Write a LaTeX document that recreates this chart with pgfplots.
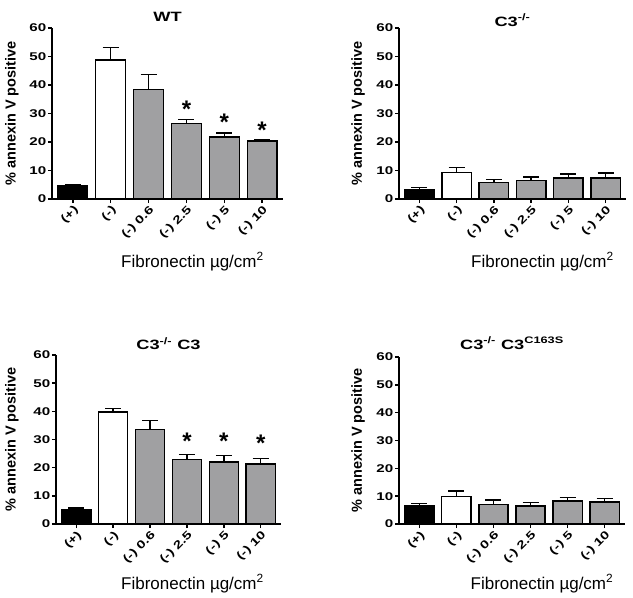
\documentclass[border=0pt]{standalone}
\usepackage{pgfplots}
\pgfplotsset{compat=1.18}
\usepackage{fontspec}
\setmainfont{Liberation Sans}
\newfontfamily\widebf{Liberation Sans Bold}[FakeStretch=1.35]
\definecolor{bargray}{RGB}{160,160,162}

\pgfplotsset{
  panel/.style={
    scale only axis,
    clip=false,
    ymin=0, ymax=60, xmin=-0.55, xmax=5.55,
    ytick={0,10,...,60},
    xtick={0,...,5},
    xticklabels={(+),(-),(-) 0.6,(-) 2.5,(-) 5,(-) 10},
    /pgf/number format/assume math mode=true,
    axis lines=left,
    axis line style={-, line width=1.4bp, black},
    tick align=outside,
    major tick length=4bp,
    every tick/.style={black, line width=1.4bp},
    tick label style={font=\widebf\fontsize{11.2bp}{13bp}\selectfont},
    xticklabel style={rotate=45, anchor=north east, inner sep=1bp},
    yticklabel style={inner sep=1.5bp},
    ylabel={\% annexin V positive},
    ylabel style={font=\bfseries\fontsize{14.5bp}{16bp}\selectfont, anchor=center},
    xlabel={Fibronectin µg/cm\textsuperscript{2}},
    xlabel style={font=\fontsize{17bp}{19bp}\selectfont, anchor=base},
    every axis title shift=0pt,
    title style={font=\widebf\fontsize{13.5bp}{15bp}\selectfont, anchor=base},
  },
  ylabx/.style={ylabel style={at={([xshift=#1]axis description cs:0,0.5)}}},
  xlabxy/.style 2 args={xlabel style={at={([xshift=#1,yshift=#2]axis description cs:0.5,0)}}},
  titley/.style={title style={at={([yshift=#1]axis description cs:0.5,1)}}},
  bars/.style={ybar, bar width=0.79, bar shift=0pt, draw=black, line width=1.4bp,
    error bars/y dir=plus, error bars/y explicit,
    error bars/error bar style={line width=1.4bp, black},
    error bars/error mark options={rotate=90, line width=1.4bp, mark size=8bp, black}},
  stars/.style={sharp plot, draw=none, mark=none, nodes near coords, point meta=explicit symbolic,
    every node near coord/.style={anchor=base, inner sep=0pt, black, font=\bfseries\fontsize{24bp}{24bp}\selectfont}},
}

\begin{document}
\begin{tikzpicture}
\useasboundingbox (0,0) rectangle (633bp,-598bp);

% WT
\begin{axis}[panel, at={(52bp,-199bp)}, anchor=south west, width=231bp, height=171bp,
  title={WT}, titley=7bp, ylabx=-40bp, xlabxy={25bp}{-68bp}]
\addplot[bars, fill=black] coordinates {(0,4.8) +- (0,0.3)};
\addplot[bars, fill=white] coordinates {(1,48.8) +- (0,4.3)};
\addplot[bars, fill=bargray] coordinates {(2,38.5) +- (0,5.1) (3,26.4) +- (0,1.4) (4,21.8) +- (0,1.4) (5,20.4) +- (0,0.4)};
\addplot[stars] coordinates {(3,28.5)[*] (4,23.9)[*] (5,21.4)[*]};
\end{axis}

% C3-/-
\begin{axis}[panel, at={(399bp,-199bp)}, anchor=south west, width=227bp, height=171bp,
  title={C3\textsuperscript{-/-}}, titley=2bp, ylabx=-41bp, xlabxy={30bp}{-68bp}]
\addplot[bars, fill=black] coordinates {(0,3.4) +- (0,0.7)};
\addplot[bars, fill=white] coordinates {(1,9.4) +- (0,1.7)};
\addplot[bars, fill=bargray] coordinates {(2,5.7) +- (0,1.2) (3,6.4) +- (0,1.3) (4,7.4) +- (0,1.4) (5,7.4) +- (0,1.7)};
\end{axis}

% C3-/- C3
\begin{axis}[panel, at={(56bp,-524bp)}, anchor=south west, width=225bp, height=169bp,
  title={C3\textsuperscript{-/-} C3}, titley=5.7bp, ylabx=-44bp, xlabxy={24bp}{-65bp}]
\addplot[bars, fill=black] coordinates {(0,5.1) +- (0,0.6)};
\addplot[bars, fill=white] coordinates {(1,39.8) +- (0,1.2)};
\addplot[bars, fill=bargray] coordinates {(2,33.6) +- (0,3.2) (3,22.9) +- (0,1.7) (4,22.0) +- (0,2.4) (5,21.3) +- (0,1.9)};
\addplot[stars] coordinates {(3,26.3)[*] (4,26.3)[*] (5,25.9)[*]};
\end{axis}

% C3-/- C3 C163S
\begin{axis}[panel, at={(399bp,-524bp)}, anchor=south west, width=226bp, height=167bp,
  title={C3\textsuperscript{-/-} C3\textsuperscript{C163S}}, titley=8bp, ylabx=-41bp, xlabxy={30bp}{-65bp}]
\addplot[bars, fill=black] coordinates {(0,6.6) +- (0,0.7)};
\addplot[bars, fill=white] coordinates {(1,9.9) +- (0,2.0)};
\addplot[bars, fill=bargray] coordinates {(2,7.0) +- (0,1.6) (3,6.5) +- (0,1.3) (4,8.2) +- (0,1.4) (5,7.9) +- (0,1.2)};
\end{axis}
\end{tikzpicture}
\end{document}
